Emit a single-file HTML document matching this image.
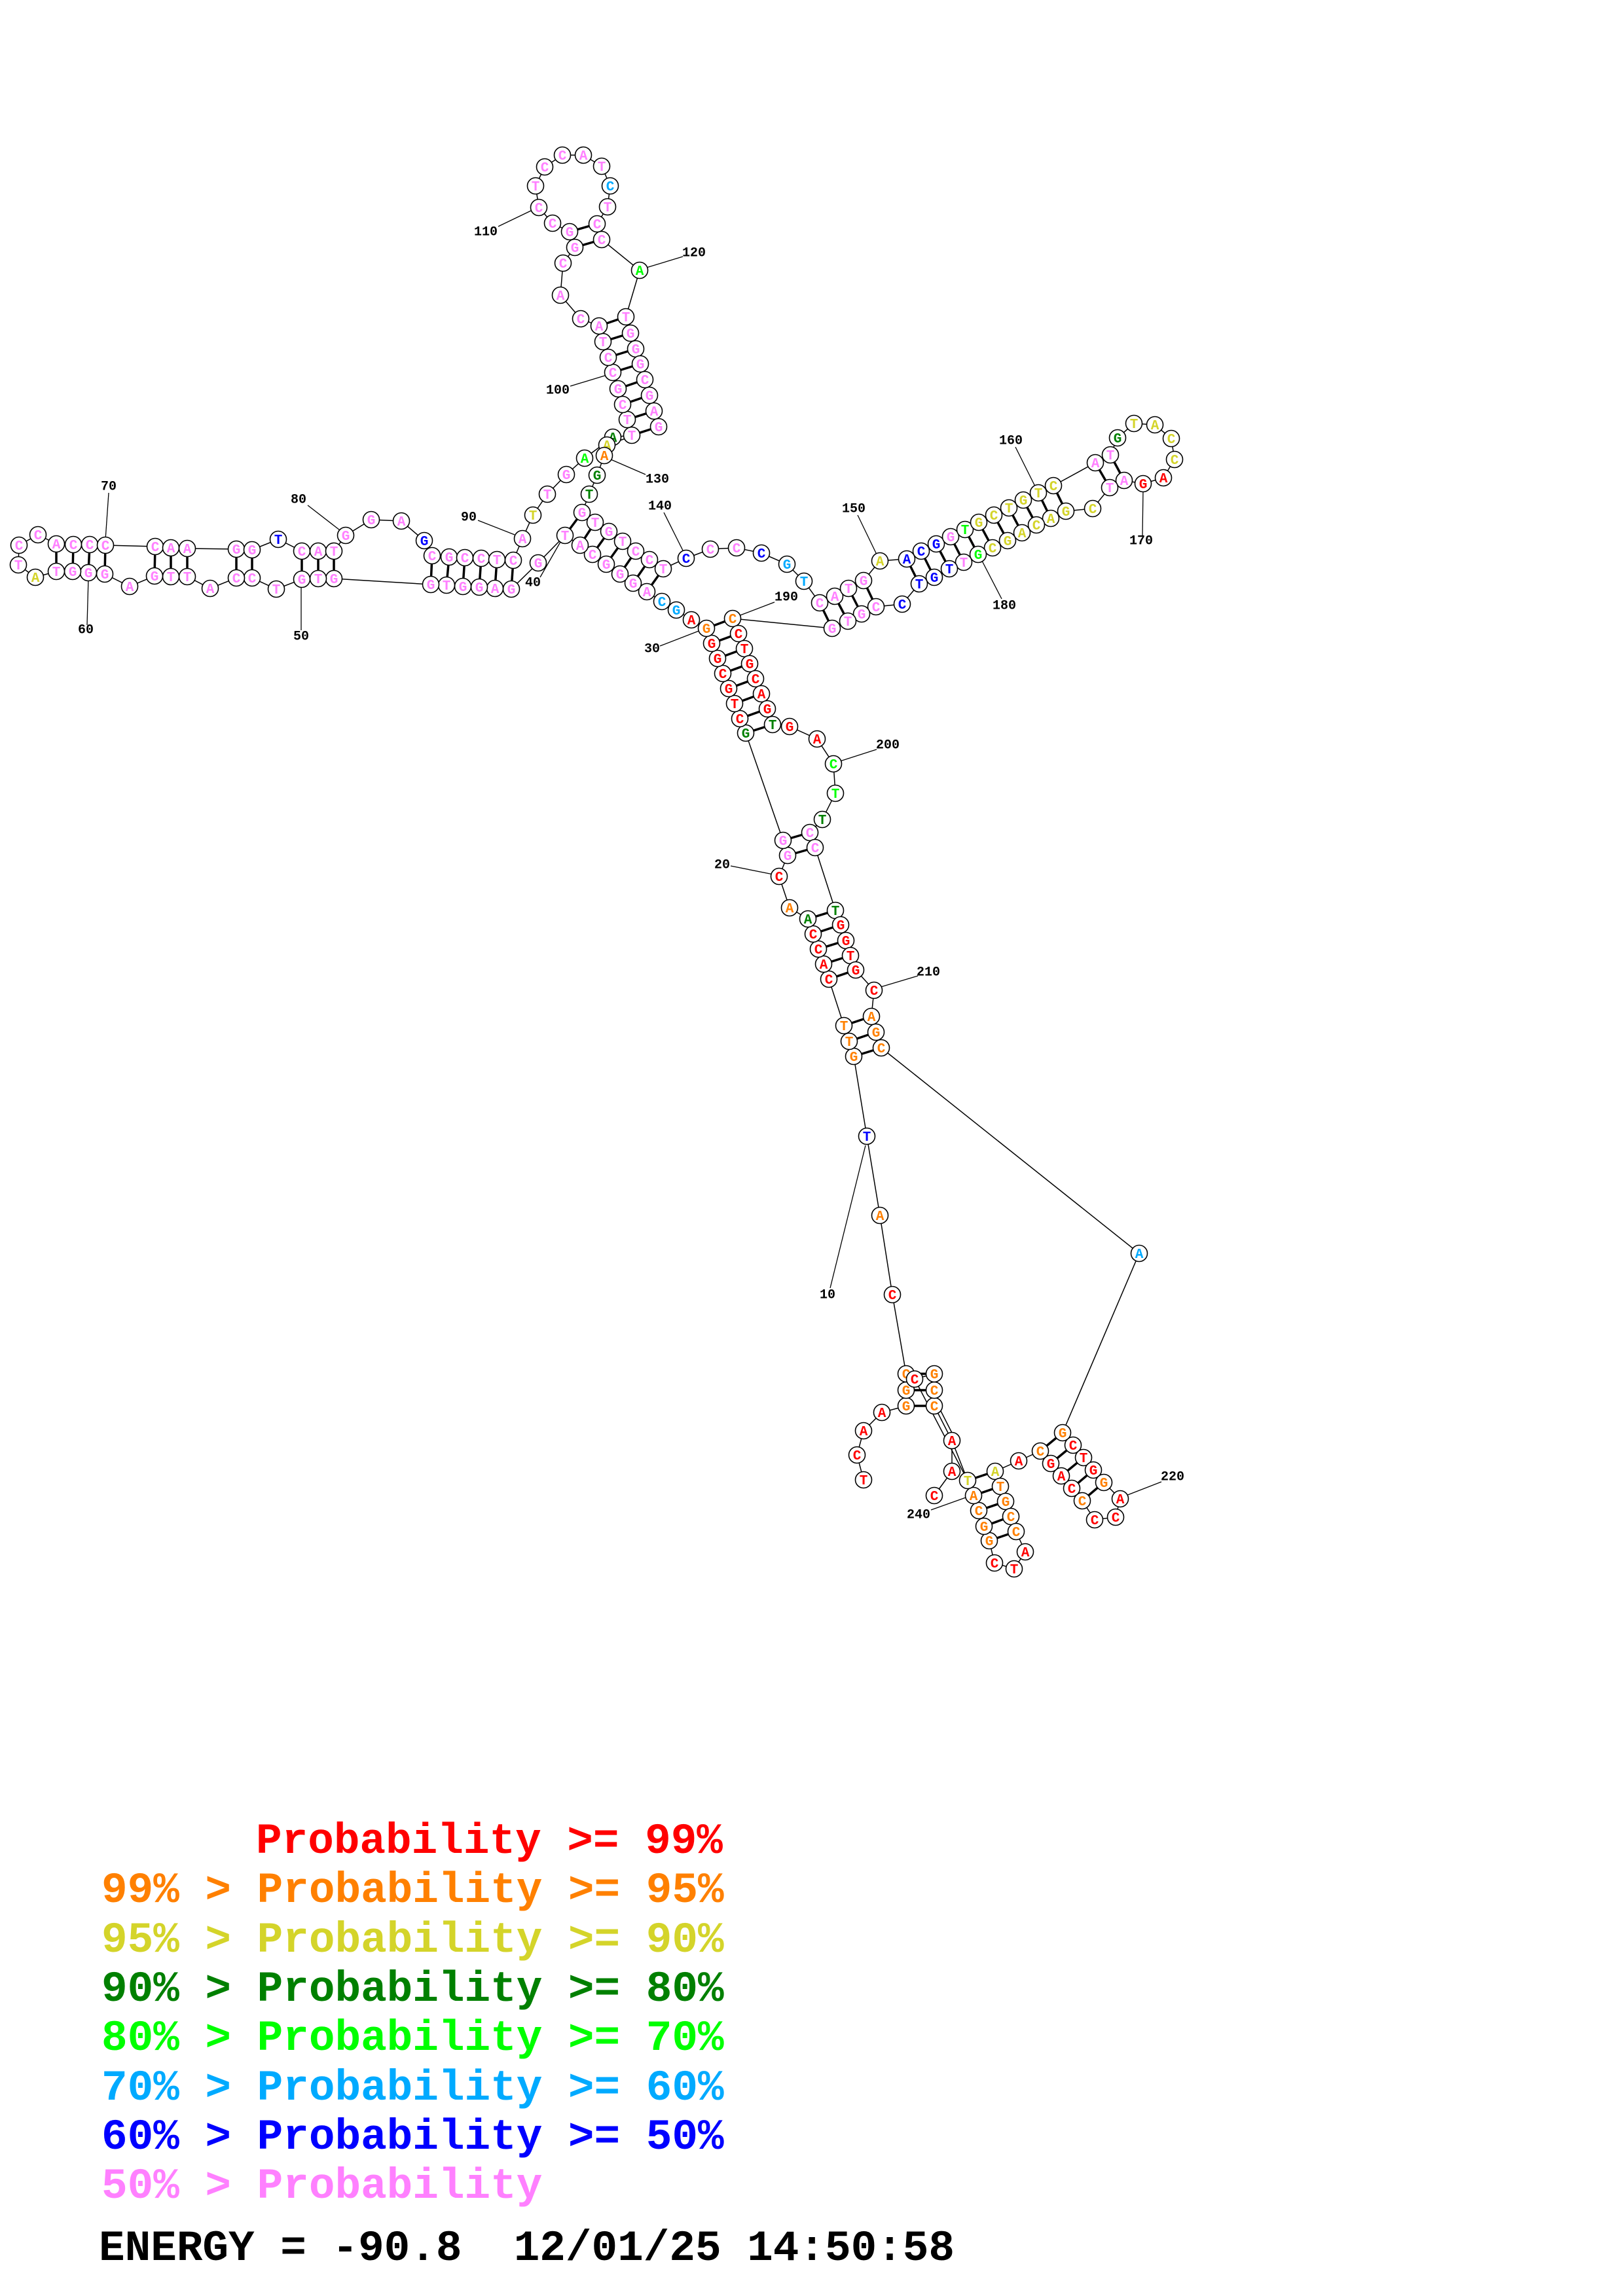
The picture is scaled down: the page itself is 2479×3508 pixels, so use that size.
<!DOCTYPE html>
<html><head><meta charset="utf-8"><style>
html,body{margin:0;padding:0;background:#fff}
svg{display:block}
.n circle{fill:#fff;stroke:#000;stroke-width:1.6}
.n text{font-family:"Liberation Mono",monospace;font-weight:bold;font-size:21px;text-anchor:middle}
.lb{font-family:"Liberation Mono",monospace;font-weight:bold;font-size:20px;text-anchor:middle;dominant-baseline:central;fill:#000}
.lg{font-family:"Liberation Mono",monospace;font-weight:bold;font-size:66px;white-space:pre}
</style></head><body>
<svg width="2479" height="3508" viewBox="0 0 2479 3508" xmlns="http://www.w3.org/2000/svg">
<g fill="none" stroke="#000" stroke-width="1.5">
<polyline points="1319,2261 1309,2223 1319,2186 1347,2158 1384,2148 1384,2124 1384,2099 1363,1978 1344,1857 1324,1736 1304,1614 1297,1591 1289,1567 1266,1496 1258,1473 1250,1450 1242,1427 1234,1404 1206,1387 1190,1339 1203,1307 1196,1284 1139,1120 1130,1098 1122,1075 1113,1052 1104,1029 1096,1006 1087,983 1079,960 1056,947 1033,932 1011,919 988,904 967,891 947,877 926,862 905,847 886,833 863,818 822,860 781,900 756,899 732,897 707,896 682,894 658,893 510,884 486,884 461,885 422,900 385,883 361,883 321,899 286,881 261,881 236,880 198,896 160,877 135,875 111,873 86,873 54,882 28,863 29,833 58,817 86,831 112,832 137,832 161,833 237,835 261,837 286,838 361,839 385,840 425,824 461,842 486,842 510,842 528,818 567,794 613,796 648,826 660,849 686,851 710,852 735,853 759,855 784,856 798,823 814,787 836,755 865,725 893,700 936,668 965,665 958,641 951,618 944,594 936,569 929,546 921,522 915,498 887,487 856,451 860,402 878,378 870,354 844,341 823,317 818,284 832,255 859,237 891,237 919,254 932,284 928,316 912,342 919,366 977,413 956,484 963,509 971,533 978,556 985,580 992,604 999,628 1006,652 927,680 923,696 912,726 900,755 889,783 909,798 930,812 951,827 971,842 992,855 1013,869 1048,853 1085,839 1125,837 1163,845 1202,862 1228,888 1252,921 1275,911 1296,899 1319,887 1344,857 1385,854 1407,842 1430,831 1452,820 1474,809 1495,798 1518,787 1541,776 1563,764 1586,753 1609,742 1673,707 1696,695 1707,669 1732,647 1764,649 1789,670 1794,702 1777,730 1746,739 1717,734 1695,745 1669,777 1628,781 1605,792 1583,802 1561,814 1539,826 1516,837 1494,847 1472,859 1450,869 1427,882 1404,892 1378,923 1338,927 1316,938 1295,949 1271,960 1119,945 1128,968 1137,991 1145,1014 1154,1037 1163,1060 1172,1083 1180,1107 1206,1110 1248,1129 1273,1167 1276,1212 1256,1252 1237,1272 1245,1295 1276,1391 1284,1413 1292,1437 1299,1460 1307,1482 1335,1513 1331,1553 1338,1577 1346,1601 1740,1915 1623,2189 1639,2208 1655,2227 1670,2246 1686,2265 1711,2290 1704,2318 1672,2322 1653,2293 1637,2274 1621,2255 1605,2236 1589,2217 1556,2232 1520,2248 1528,2271 1536,2294 1544,2317 1552,2340 1566,2371 1549,2397 1519,2388 1511,2354 1503,2332 1495,2308 1487,2285 1478,2262 1454,2201 1454,2248 1427,2285"/>
<polyline points="1454,2201 1427,2148 1427,2124 1427,2099 1397,2107 1478,2262"/>
<polyline points="1459,2199 1432,2146"/>
</g>
<g stroke="#000" stroke-width="3.5">
<line x1="870" y1="354" x2="912" y2="342"/><line x1="878" y1="378" x2="919" y2="366"/>
<line x1="915" y1="498" x2="956" y2="484"/><line x1="921" y1="522" x2="963" y2="509"/><line x1="929" y1="546" x2="971" y2="533"/><line x1="936" y1="569" x2="978" y2="556"/><line x1="944" y1="594" x2="985" y2="580"/><line x1="951" y1="618" x2="992" y2="604"/><line x1="958" y1="641" x2="999" y2="628"/><line x1="965" y1="665" x2="1006" y2="652"/>
<line x1="863" y1="818" x2="889" y2="783"/><line x1="886" y1="833" x2="909" y2="798"/><line x1="905" y1="847" x2="930" y2="812"/><line x1="926" y1="862" x2="951" y2="827"/><line x1="947" y1="877" x2="971" y2="842"/><line x1="967" y1="891" x2="992" y2="855"/><line x1="988" y1="904" x2="1013" y2="869"/>
<line x1="86" y1="831" x2="86" y2="873"/><line x1="112" y1="832" x2="111" y2="873"/><line x1="137" y1="832" x2="135" y2="875"/><line x1="161" y1="833" x2="160" y2="877"/>
<line x1="237" y1="835" x2="236" y2="880"/><line x1="261" y1="837" x2="261" y2="881"/><line x1="286" y1="838" x2="286" y2="881"/>
<line x1="361" y1="839" x2="361" y2="883"/><line x1="385" y1="840" x2="385" y2="883"/>
<line x1="461" y1="842" x2="461" y2="885"/><line x1="486" y1="842" x2="486" y2="884"/><line x1="510" y1="842" x2="510" y2="884"/>
<line x1="660" y1="849" x2="658" y2="893"/><line x1="686" y1="851" x2="682" y2="894"/><line x1="710" y1="852" x2="707" y2="896"/><line x1="735" y1="853" x2="732" y2="897"/><line x1="759" y1="855" x2="756" y2="899"/><line x1="784" y1="856" x2="781" y2="900"/>
<line x1="1252" y1="921" x2="1271" y2="960"/><line x1="1275" y1="911" x2="1295" y2="949"/><line x1="1296" y1="899" x2="1316" y2="938"/><line x1="1319" y1="887" x2="1338" y2="927"/>
<line x1="1385" y1="854" x2="1404" y2="892"/><line x1="1407" y1="842" x2="1427" y2="882"/><line x1="1430" y1="831" x2="1450" y2="869"/><line x1="1452" y1="820" x2="1472" y2="859"/><line x1="1474" y1="809" x2="1494" y2="847"/><line x1="1495" y1="798" x2="1516" y2="837"/><line x1="1518" y1="787" x2="1539" y2="826"/><line x1="1541" y1="776" x2="1561" y2="814"/><line x1="1563" y1="764" x2="1583" y2="802"/><line x1="1586" y1="753" x2="1605" y2="792"/><line x1="1609" y1="742" x2="1628" y2="781"/><line x1="1673" y1="707" x2="1695" y2="745"/><line x1="1696" y1="695" x2="1717" y2="734"/>
<line x1="1079" y1="960" x2="1119" y2="945"/><line x1="1087" y1="983" x2="1128" y2="968"/><line x1="1096" y1="1006" x2="1137" y2="991"/><line x1="1104" y1="1029" x2="1145" y2="1014"/><line x1="1113" y1="1052" x2="1154" y2="1037"/><line x1="1122" y1="1075" x2="1163" y2="1060"/><line x1="1130" y1="1098" x2="1172" y2="1083"/><line x1="1139" y1="1120" x2="1180" y2="1107"/>
<line x1="1196" y1="1284" x2="1237" y2="1272"/><line x1="1203" y1="1307" x2="1245" y2="1295"/>
<line x1="1234" y1="1404" x2="1276" y2="1391"/><line x1="1242" y1="1427" x2="1284" y2="1413"/><line x1="1250" y1="1450" x2="1292" y2="1437"/><line x1="1258" y1="1473" x2="1299" y2="1460"/><line x1="1266" y1="1496" x2="1307" y2="1482"/>
<line x1="1289" y1="1567" x2="1331" y2="1553"/><line x1="1297" y1="1591" x2="1338" y2="1577"/><line x1="1304" y1="1614" x2="1346" y2="1601"/>
<line x1="1384" y1="2099" x2="1427" y2="2099"/><line x1="1384" y1="2124" x2="1427" y2="2124"/><line x1="1384" y1="2148" x2="1427" y2="2148"/>
<line x1="1589" y1="2217" x2="1623" y2="2189"/><line x1="1605" y1="2236" x2="1639" y2="2208"/><line x1="1621" y1="2255" x2="1655" y2="2227"/><line x1="1637" y1="2274" x2="1670" y2="2246"/><line x1="1653" y1="2293" x2="1686" y2="2265"/>
<line x1="1478" y1="2262" x2="1520" y2="2248"/><line x1="1487" y1="2285" x2="1528" y2="2271"/><line x1="1495" y1="2308" x2="1536" y2="2294"/><line x1="1503" y1="2332" x2="1544" y2="2317"/><line x1="1511" y1="2354" x2="1552" y2="2340"/>
</g>
<g stroke="#000" stroke-width="1.3">
<line x1="1268" y1="1968" x2="1322" y2="1750"/><line x1="1116" y1="1323" x2="1181" y2="1336"/><line x1="1008" y1="987" x2="1070" y2="963"/><line x1="825" y1="882" x2="856" y2="828"/><line x1="460" y1="963" x2="460" y2="892"/><line x1="133" y1="955" x2="135" y2="883"/><line x1="166" y1="753" x2="161" y2="825"/><line x1="470" y1="772" x2="519" y2="810"/><line x1="730" y1="795" x2="786" y2="817"/><line x1="871" y1="590" x2="927" y2="573"/><line x1="761" y1="346" x2="813" y2="321"/><line x1="1043" y1="392" x2="987" y2="409"/><line x1="986" y1="725" x2="933" y2="702"/><line x1="1014" y1="783" x2="1046" y2="847"/><line x1="1310" y1="787" x2="1339" y2="847"/><line x1="1551" y1="683" x2="1581" y2="743"/><line x1="1745" y1="818" x2="1746" y2="748"/><line x1="1530" y1="915" x2="1500" y2="857"/><line x1="1183" y1="920" x2="1128" y2="941"/><line x1="1339" y1="1145" x2="1283" y2="1163"/><line x1="1402" y1="1491" x2="1345" y2="1508"/><line x1="1774" y1="2264" x2="1720" y2="2285"/><line x1="1422" y1="2307" x2="1478" y2="2287"/>
</g>
<g class="lb">
<text x="1264" y="1979">10</text><text x="1103" y="1322">20</text><text x="996" y="992">30</text><text x="814" y="891">40</text><text x="460" y="973">50</text><text x="131" y="963">60</text><text x="166" y="744">70</text><text x="456" y="764">80</text><text x="716" y="791">90</text><text x="852" y="597">100</text><text x="742" y="355">110</text><text x="1060" y="387">120</text><text x="1004" y="733">130</text><text x="1008" y="774">140</text><text x="1304" y="778">150</text><text x="1544" y="674">160</text><text x="1743" y="827">170</text><text x="1534" y="926">180</text><text x="1201" y="913">190</text><text x="1356" y="1139">200</text><text x="1418" y="1486">210</text><text x="1791" y="2257">220</text><text x="1403" y="2315">240</text>
</g>
<g class="n">
<circle cx="1319" cy="2261" r="12.5"/><text x="1319" y="2268" fill="#f00">T</text>
<circle cx="1309" cy="2223" r="12.5"/><text x="1309" y="2230" fill="#f00">C</text>
<circle cx="1319" cy="2186" r="12.5"/><text x="1319" y="2193" fill="#f00">A</text>
<circle cx="1347" cy="2158" r="12.5"/><text x="1347" y="2165" fill="#f00">A</text>
<circle cx="1384" cy="2148" r="12.5"/><text x="1384" y="2155" fill="#ff8000">G</text>
<circle cx="1384" cy="2124" r="12.5"/><text x="1384" y="2131" fill="#ff8000">G</text>
<circle cx="1384" cy="2099" r="12.5"/><text x="1384" y="2106" fill="#ff8000">C</text>
<circle cx="1427" cy="2148" r="12.5"/><text x="1427" y="2155" fill="#ff8000">C</text>
<circle cx="1427" cy="2124" r="12.5"/><text x="1427" y="2131" fill="#ff8000">C</text>
<circle cx="1427" cy="2099" r="12.5"/><text x="1427" y="2106" fill="#ff8000">G</text>
<circle cx="1397" cy="2107" r="12.5"/><text x="1397" y="2114" fill="#f00">C</text>
<circle cx="1363" cy="1978" r="12.5"/><text x="1363" y="1985" fill="#f00">C</text>
<circle cx="1344" cy="1857" r="12.5"/><text x="1344" y="1864" fill="#ff8000">A</text>
<circle cx="1324" cy="1736" r="12.5"/><text x="1324" y="1743" fill="#00f">T</text>
<circle cx="1304" cy="1614" r="12.5"/><text x="1304" y="1621" fill="#ff8000">G</text>
<circle cx="1297" cy="1591" r="12.5"/><text x="1297" y="1598" fill="#ff8000">T</text>
<circle cx="1289" cy="1567" r="12.5"/><text x="1289" y="1574" fill="#ff8000">T</text>
<circle cx="1266" cy="1496" r="12.5"/><text x="1266" y="1503" fill="#f00">C</text>
<circle cx="1258" cy="1473" r="12.5"/><text x="1258" y="1480" fill="#f00">A</text>
<circle cx="1250" cy="1450" r="12.5"/><text x="1250" y="1457" fill="#f00">C</text>
<circle cx="1242" cy="1427" r="12.5"/><text x="1242" y="1434" fill="#f00">C</text>
<circle cx="1234" cy="1404" r="12.5"/><text x="1234" y="1411" fill="#008000">A</text>
<circle cx="1206" cy="1387" r="12.5"/><text x="1206" y="1394" fill="#ff8000">A</text>
<circle cx="1190" cy="1339" r="12.5"/><text x="1190" y="1346" fill="#f00">C</text>
<circle cx="1203" cy="1307" r="12.5"/><text x="1203" y="1314" fill="#ff80ff">G</text>
<circle cx="1196" cy="1284" r="12.5"/><text x="1196" y="1291" fill="#ff80ff">G</text>
<circle cx="1139" cy="1120" r="12.5"/><text x="1139" y="1127" fill="#008000">G</text>
<circle cx="1130" cy="1098" r="12.5"/><text x="1130" y="1105" fill="#f00">C</text>
<circle cx="1122" cy="1075" r="12.5"/><text x="1122" y="1082" fill="#f00">T</text>
<circle cx="1113" cy="1052" r="12.5"/><text x="1113" y="1059" fill="#f00">G</text>
<circle cx="1104" cy="1029" r="12.5"/><text x="1104" y="1036" fill="#f00">C</text>
<circle cx="1096" cy="1006" r="12.5"/><text x="1096" y="1013" fill="#f00">G</text>
<circle cx="1087" cy="983" r="12.5"/><text x="1087" y="990" fill="#f00">G</text>
<circle cx="1079" cy="960" r="12.5"/><text x="1079" y="967" fill="#ff8000">G</text>
<circle cx="1056" cy="947" r="12.5"/><text x="1056" y="954" fill="#f00">A</text>
<circle cx="1033" cy="932" r="12.5"/><text x="1033" y="939" fill="#00aaff">G</text>
<circle cx="1011" cy="919" r="12.5"/><text x="1011" y="926" fill="#00aaff">C</text>
<circle cx="988" cy="904" r="12.5"/><text x="988" y="911" fill="#ff80ff">A</text>
<circle cx="967" cy="891" r="12.5"/><text x="967" y="898" fill="#ff80ff">G</text>
<circle cx="947" cy="877" r="12.5"/><text x="947" y="884" fill="#ff80ff">G</text>
<circle cx="926" cy="862" r="12.5"/><text x="926" y="869" fill="#ff80ff">G</text>
<circle cx="905" cy="847" r="12.5"/><text x="905" y="854" fill="#ff80ff">C</text>
<circle cx="886" cy="833" r="12.5"/><text x="886" y="840" fill="#ff80ff">A</text>
<circle cx="863" cy="818" r="12.5"/><text x="863" y="825" fill="#ff80ff">T</text>
<circle cx="822" cy="860" r="12.5"/><text x="822" y="867" fill="#ff80ff">G</text>
<circle cx="781" cy="900" r="12.5"/><text x="781" y="907" fill="#ff80ff">G</text>
<circle cx="756" cy="899" r="12.5"/><text x="756" y="906" fill="#ff80ff">A</text>
<circle cx="732" cy="897" r="12.5"/><text x="732" y="904" fill="#ff80ff">G</text>
<circle cx="707" cy="896" r="12.5"/><text x="707" y="903" fill="#ff80ff">G</text>
<circle cx="682" cy="894" r="12.5"/><text x="682" y="901" fill="#ff80ff">T</text>
<circle cx="658" cy="893" r="12.5"/><text x="658" y="900" fill="#ff80ff">G</text>
<circle cx="510" cy="884" r="12.5"/><text x="510" y="891" fill="#ff80ff">G</text>
<circle cx="486" cy="884" r="12.5"/><text x="486" y="891" fill="#ff80ff">T</text>
<circle cx="461" cy="885" r="12.5"/><text x="461" y="892" fill="#ff80ff">G</text>
<circle cx="422" cy="900" r="12.5"/><text x="422" y="907" fill="#ff80ff">T</text>
<circle cx="385" cy="883" r="12.5"/><text x="385" y="890" fill="#ff80ff">C</text>
<circle cx="361" cy="883" r="12.5"/><text x="361" y="890" fill="#ff80ff">C</text>
<circle cx="321" cy="899" r="12.5"/><text x="321" y="906" fill="#ff80ff">A</text>
<circle cx="286" cy="881" r="12.5"/><text x="286" y="888" fill="#ff80ff">T</text>
<circle cx="261" cy="881" r="12.5"/><text x="261" y="888" fill="#ff80ff">T</text>
<circle cx="236" cy="880" r="12.5"/><text x="236" y="887" fill="#ff80ff">G</text>
<circle cx="198" cy="896" r="12.5"/><text x="198" y="903" fill="#ff80ff">A</text>
<circle cx="160" cy="877" r="12.5"/><text x="160" y="884" fill="#ff80ff">G</text>
<circle cx="135" cy="875" r="12.5"/><text x="135" y="882" fill="#ff80ff">G</text>
<circle cx="111" cy="873" r="12.5"/><text x="111" y="880" fill="#ff80ff">G</text>
<circle cx="86" cy="873" r="12.5"/><text x="86" y="880" fill="#ff80ff">T</text>
<circle cx="54" cy="882" r="12.5"/><text x="54" y="889" fill="#d4d42a">A</text>
<circle cx="28" cy="863" r="12.5"/><text x="28" y="870" fill="#ff80ff">T</text>
<circle cx="29" cy="833" r="12.5"/><text x="29" y="840" fill="#ff80ff">C</text>
<circle cx="58" cy="817" r="12.5"/><text x="58" y="824" fill="#ff80ff">C</text>
<circle cx="86" cy="831" r="12.5"/><text x="86" y="838" fill="#ff80ff">A</text>
<circle cx="112" cy="832" r="12.5"/><text x="112" y="839" fill="#ff80ff">C</text>
<circle cx="137" cy="832" r="12.5"/><text x="137" y="839" fill="#ff80ff">C</text>
<circle cx="161" cy="833" r="12.5"/><text x="161" y="840" fill="#ff80ff">C</text>
<circle cx="237" cy="835" r="12.5"/><text x="237" y="842" fill="#ff80ff">C</text>
<circle cx="261" cy="837" r="12.5"/><text x="261" y="844" fill="#ff80ff">A</text>
<circle cx="286" cy="838" r="12.5"/><text x="286" y="845" fill="#ff80ff">A</text>
<circle cx="361" cy="839" r="12.5"/><text x="361" y="846" fill="#ff80ff">G</text>
<circle cx="385" cy="840" r="12.5"/><text x="385" y="847" fill="#ff80ff">G</text>
<circle cx="425" cy="824" r="12.5"/><text x="425" y="831" fill="#00f">T</text>
<circle cx="461" cy="842" r="12.5"/><text x="461" y="849" fill="#ff80ff">C</text>
<circle cx="486" cy="842" r="12.5"/><text x="486" y="849" fill="#ff80ff">A</text>
<circle cx="510" cy="842" r="12.5"/><text x="510" y="849" fill="#ff80ff">T</text>
<circle cx="528" cy="818" r="12.5"/><text x="528" y="825" fill="#ff80ff">G</text>
<circle cx="567" cy="794" r="12.5"/><text x="567" y="801" fill="#ff80ff">G</text>
<circle cx="613" cy="796" r="12.5"/><text x="613" y="803" fill="#ff80ff">A</text>
<circle cx="648" cy="826" r="12.5"/><text x="648" y="833" fill="#00f">G</text>
<circle cx="660" cy="849" r="12.5"/><text x="660" y="856" fill="#ff80ff">C</text>
<circle cx="686" cy="851" r="12.5"/><text x="686" y="858" fill="#ff80ff">G</text>
<circle cx="710" cy="852" r="12.5"/><text x="710" y="859" fill="#ff80ff">C</text>
<circle cx="735" cy="853" r="12.5"/><text x="735" y="860" fill="#ff80ff">C</text>
<circle cx="759" cy="855" r="12.5"/><text x="759" y="862" fill="#ff80ff">T</text>
<circle cx="784" cy="856" r="12.5"/><text x="784" y="863" fill="#ff80ff">C</text>
<circle cx="798" cy="823" r="12.5"/><text x="798" y="830" fill="#ff80ff">A</text>
<circle cx="814" cy="787" r="12.5"/><text x="814" y="794" fill="#d4d42a">T</text>
<circle cx="836" cy="755" r="12.5"/><text x="836" y="762" fill="#ff80ff">T</text>
<circle cx="865" cy="725" r="12.5"/><text x="865" y="732" fill="#ff80ff">G</text>
<circle cx="893" cy="700" r="12.5"/><text x="893" y="707" fill="#0f0">A</text>
<circle cx="936" cy="668" r="12.5"/><text x="936" y="675" fill="#008000">A</text>
<circle cx="965" cy="665" r="12.5"/><text x="965" y="672" fill="#ff80ff">T</text>
<circle cx="958" cy="641" r="12.5"/><text x="958" y="648" fill="#ff80ff">T</text>
<circle cx="951" cy="618" r="12.5"/><text x="951" y="625" fill="#ff80ff">C</text>
<circle cx="944" cy="594" r="12.5"/><text x="944" y="601" fill="#ff80ff">G</text>
<circle cx="936" cy="569" r="12.5"/><text x="936" y="576" fill="#ff80ff">C</text>
<circle cx="929" cy="546" r="12.5"/><text x="929" y="553" fill="#ff80ff">C</text>
<circle cx="921" cy="522" r="12.5"/><text x="921" y="529" fill="#ff80ff">T</text>
<circle cx="915" cy="498" r="12.5"/><text x="915" y="505" fill="#ff80ff">A</text>
<circle cx="887" cy="487" r="12.5"/><text x="887" y="494" fill="#ff80ff">C</text>
<circle cx="856" cy="451" r="12.5"/><text x="856" y="458" fill="#ff80ff">A</text>
<circle cx="860" cy="402" r="12.5"/><text x="860" y="409" fill="#ff80ff">C</text>
<circle cx="878" cy="378" r="12.5"/><text x="878" y="385" fill="#ff80ff">G</text>
<circle cx="870" cy="354" r="12.5"/><text x="870" y="361" fill="#ff80ff">G</text>
<circle cx="844" cy="341" r="12.5"/><text x="844" y="348" fill="#ff80ff">C</text>
<circle cx="823" cy="317" r="12.5"/><text x="823" y="324" fill="#ff80ff">C</text>
<circle cx="818" cy="284" r="12.5"/><text x="818" y="291" fill="#ff80ff">T</text>
<circle cx="832" cy="255" r="12.5"/><text x="832" y="262" fill="#ff80ff">C</text>
<circle cx="859" cy="237" r="12.5"/><text x="859" y="244" fill="#ff80ff">C</text>
<circle cx="891" cy="237" r="12.5"/><text x="891" y="244" fill="#ff80ff">A</text>
<circle cx="919" cy="254" r="12.5"/><text x="919" y="261" fill="#ff80ff">T</text>
<circle cx="932" cy="284" r="12.5"/><text x="932" y="291" fill="#00aaff">C</text>
<circle cx="928" cy="316" r="12.5"/><text x="928" y="323" fill="#ff80ff">T</text>
<circle cx="912" cy="342" r="12.5"/><text x="912" y="349" fill="#ff80ff">C</text>
<circle cx="919" cy="366" r="12.5"/><text x="919" y="373" fill="#ff80ff">C</text>
<circle cx="977" cy="413" r="12.5"/><text x="977" y="420" fill="#0f0">A</text>
<circle cx="956" cy="484" r="12.5"/><text x="956" y="491" fill="#ff80ff">T</text>
<circle cx="963" cy="509" r="12.5"/><text x="963" y="516" fill="#ff80ff">G</text>
<circle cx="971" cy="533" r="12.5"/><text x="971" y="540" fill="#ff80ff">G</text>
<circle cx="978" cy="556" r="12.5"/><text x="978" y="563" fill="#ff80ff">G</text>
<circle cx="985" cy="580" r="12.5"/><text x="985" y="587" fill="#ff80ff">C</text>
<circle cx="992" cy="604" r="12.5"/><text x="992" y="611" fill="#ff80ff">G</text>
<circle cx="999" cy="628" r="12.5"/><text x="999" y="635" fill="#ff80ff">A</text>
<circle cx="1006" cy="652" r="12.5"/><text x="1006" y="659" fill="#ff80ff">G</text>
<circle cx="927" cy="680" r="12.5"/><text x="927" y="687" fill="#d4d42a">A</text>
<circle cx="923" cy="696" r="12.5"/><text x="923" y="703" fill="#ff8000">A</text>
<circle cx="912" cy="726" r="12.5"/><text x="912" y="733" fill="#008000">G</text>
<circle cx="900" cy="755" r="12.5"/><text x="900" y="762" fill="#008000">T</text>
<circle cx="889" cy="783" r="12.5"/><text x="889" y="790" fill="#ff80ff">G</text>
<circle cx="909" cy="798" r="12.5"/><text x="909" y="805" fill="#ff80ff">T</text>
<circle cx="930" cy="812" r="12.5"/><text x="930" y="819" fill="#ff80ff">G</text>
<circle cx="951" cy="827" r="12.5"/><text x="951" y="834" fill="#ff80ff">T</text>
<circle cx="971" cy="842" r="12.5"/><text x="971" y="849" fill="#ff80ff">C</text>
<circle cx="992" cy="855" r="12.5"/><text x="992" y="862" fill="#ff80ff">C</text>
<circle cx="1013" cy="869" r="12.5"/><text x="1013" y="876" fill="#ff80ff">T</text>
<circle cx="1048" cy="853" r="12.5"/><text x="1048" y="860" fill="#00f">C</text>
<circle cx="1085" cy="839" r="12.5"/><text x="1085" y="846" fill="#ff80ff">C</text>
<circle cx="1125" cy="837" r="12.5"/><text x="1125" y="844" fill="#ff80ff">C</text>
<circle cx="1163" cy="845" r="12.5"/><text x="1163" y="852" fill="#00f">C</text>
<circle cx="1202" cy="862" r="12.5"/><text x="1202" y="869" fill="#00aaff">G</text>
<circle cx="1228" cy="888" r="12.5"/><text x="1228" y="895" fill="#00aaff">T</text>
<circle cx="1252" cy="921" r="12.5"/><text x="1252" y="928" fill="#ff80ff">C</text>
<circle cx="1275" cy="911" r="12.5"/><text x="1275" y="918" fill="#ff80ff">A</text>
<circle cx="1296" cy="899" r="12.5"/><text x="1296" y="906" fill="#ff80ff">T</text>
<circle cx="1319" cy="887" r="12.5"/><text x="1319" y="894" fill="#ff80ff">G</text>
<circle cx="1344" cy="857" r="12.5"/><text x="1344" y="864" fill="#d4d42a">A</text>
<circle cx="1385" cy="854" r="12.5"/><text x="1385" y="861" fill="#00f">A</text>
<circle cx="1407" cy="842" r="12.5"/><text x="1407" y="849" fill="#00f">C</text>
<circle cx="1430" cy="831" r="12.5"/><text x="1430" y="838" fill="#00f">G</text>
<circle cx="1452" cy="820" r="12.5"/><text x="1452" y="827" fill="#ff80ff">G</text>
<circle cx="1474" cy="809" r="12.5"/><text x="1474" y="816" fill="#0f0">T</text>
<circle cx="1495" cy="798" r="12.5"/><text x="1495" y="805" fill="#d4d42a">G</text>
<circle cx="1518" cy="787" r="12.5"/><text x="1518" y="794" fill="#d4d42a">C</text>
<circle cx="1541" cy="776" r="12.5"/><text x="1541" y="783" fill="#d4d42a">T</text>
<circle cx="1563" cy="764" r="12.5"/><text x="1563" y="771" fill="#d4d42a">G</text>
<circle cx="1586" cy="753" r="12.5"/><text x="1586" y="760" fill="#d4d42a">T</text>
<circle cx="1609" cy="742" r="12.5"/><text x="1609" y="749" fill="#d4d42a">C</text>
<circle cx="1673" cy="707" r="12.5"/><text x="1673" y="714" fill="#ff80ff">A</text>
<circle cx="1696" cy="695" r="12.5"/><text x="1696" y="702" fill="#ff80ff">T</text>
<circle cx="1707" cy="669" r="12.5"/><text x="1707" y="676" fill="#008000">G</text>
<circle cx="1732" cy="647" r="12.5"/><text x="1732" y="654" fill="#d4d42a">T</text>
<circle cx="1764" cy="649" r="12.5"/><text x="1764" y="656" fill="#d4d42a">A</text>
<circle cx="1789" cy="670" r="12.5"/><text x="1789" y="677" fill="#d4d42a">C</text>
<circle cx="1794" cy="702" r="12.5"/><text x="1794" y="709" fill="#d4d42a">C</text>
<circle cx="1777" cy="730" r="12.5"/><text x="1777" y="737" fill="#f00">A</text>
<circle cx="1746" cy="739" r="12.5"/><text x="1746" y="746" fill="#f00">G</text>
<circle cx="1717" cy="734" r="12.5"/><text x="1717" y="741" fill="#ff80ff">A</text>
<circle cx="1695" cy="745" r="12.5"/><text x="1695" y="752" fill="#ff80ff">T</text>
<circle cx="1669" cy="777" r="12.5"/><text x="1669" y="784" fill="#d4d42a">C</text>
<circle cx="1628" cy="781" r="12.5"/><text x="1628" y="788" fill="#d4d42a">G</text>
<circle cx="1605" cy="792" r="12.5"/><text x="1605" y="799" fill="#d4d42a">A</text>
<circle cx="1583" cy="802" r="12.5"/><text x="1583" y="809" fill="#d4d42a">C</text>
<circle cx="1561" cy="814" r="12.5"/><text x="1561" y="821" fill="#d4d42a">A</text>
<circle cx="1539" cy="826" r="12.5"/><text x="1539" y="833" fill="#d4d42a">G</text>
<circle cx="1516" cy="837" r="12.5"/><text x="1516" y="844" fill="#d4d42a">C</text>
<circle cx="1494" cy="847" r="12.5"/><text x="1494" y="854" fill="#0f0">G</text>
<circle cx="1472" cy="859" r="12.5"/><text x="1472" y="866" fill="#ff80ff">T</text>
<circle cx="1450" cy="869" r="12.5"/><text x="1450" y="876" fill="#00f">T</text>
<circle cx="1427" cy="882" r="12.5"/><text x="1427" y="889" fill="#00f">G</text>
<circle cx="1404" cy="892" r="12.5"/><text x="1404" y="899" fill="#00f">T</text>
<circle cx="1378" cy="923" r="12.5"/><text x="1378" y="930" fill="#00f">C</text>
<circle cx="1338" cy="927" r="12.5"/><text x="1338" y="934" fill="#ff80ff">C</text>
<circle cx="1316" cy="938" r="12.5"/><text x="1316" y="945" fill="#ff80ff">G</text>
<circle cx="1295" cy="949" r="12.5"/><text x="1295" y="956" fill="#ff80ff">T</text>
<circle cx="1271" cy="960" r="12.5"/><text x="1271" y="967" fill="#ff80ff">G</text>
<circle cx="1119" cy="945" r="12.5"/><text x="1119" y="952" fill="#ff8000">C</text>
<circle cx="1128" cy="968" r="12.5"/><text x="1128" y="975" fill="#f00">C</text>
<circle cx="1137" cy="991" r="12.5"/><text x="1137" y="998" fill="#f00">T</text>
<circle cx="1145" cy="1014" r="12.5"/><text x="1145" y="1021" fill="#f00">G</text>
<circle cx="1154" cy="1037" r="12.5"/><text x="1154" y="1044" fill="#f00">C</text>
<circle cx="1163" cy="1060" r="12.5"/><text x="1163" y="1067" fill="#f00">A</text>
<circle cx="1172" cy="1083" r="12.5"/><text x="1172" y="1090" fill="#f00">G</text>
<circle cx="1180" cy="1107" r="12.5"/><text x="1180" y="1114" fill="#008000">T</text>
<circle cx="1206" cy="1110" r="12.5"/><text x="1206" y="1117" fill="#f00">G</text>
<circle cx="1248" cy="1129" r="12.5"/><text x="1248" y="1136" fill="#f00">A</text>
<circle cx="1273" cy="1167" r="12.5"/><text x="1273" y="1174" fill="#0f0">C</text>
<circle cx="1276" cy="1212" r="12.5"/><text x="1276" y="1219" fill="#0f0">T</text>
<circle cx="1256" cy="1252" r="12.5"/><text x="1256" y="1259" fill="#008000">T</text>
<circle cx="1237" cy="1272" r="12.5"/><text x="1237" y="1279" fill="#ff80ff">C</text>
<circle cx="1245" cy="1295" r="12.5"/><text x="1245" y="1302" fill="#ff80ff">C</text>
<circle cx="1276" cy="1391" r="12.5"/><text x="1276" y="1398" fill="#008000">T</text>
<circle cx="1284" cy="1413" r="12.5"/><text x="1284" y="1420" fill="#f00">G</text>
<circle cx="1292" cy="1437" r="12.5"/><text x="1292" y="1444" fill="#f00">G</text>
<circle cx="1299" cy="1460" r="12.5"/><text x="1299" y="1467" fill="#f00">T</text>
<circle cx="1307" cy="1482" r="12.5"/><text x="1307" y="1489" fill="#f00">G</text>
<circle cx="1335" cy="1513" r="12.5"/><text x="1335" y="1520" fill="#f00">C</text>
<circle cx="1331" cy="1553" r="12.5"/><text x="1331" y="1560" fill="#ff8000">A</text>
<circle cx="1338" cy="1577" r="12.5"/><text x="1338" y="1584" fill="#ff8000">G</text>
<circle cx="1346" cy="1601" r="12.5"/><text x="1346" y="1608" fill="#ff8000">C</text>
<circle cx="1740" cy="1915" r="12.5"/><text x="1740" y="1922" fill="#00aaff">A</text>
<circle cx="1623" cy="2189" r="12.5"/><text x="1623" y="2196" fill="#ff8000">G</text>
<circle cx="1639" cy="2208" r="12.5"/><text x="1639" y="2215" fill="#f00">C</text>
<circle cx="1655" cy="2227" r="12.5"/><text x="1655" y="2234" fill="#f00">T</text>
<circle cx="1670" cy="2246" r="12.5"/><text x="1670" y="2253" fill="#f00">G</text>
<circle cx="1686" cy="2265" r="12.5"/><text x="1686" y="2272" fill="#ff8000">G</text>
<circle cx="1711" cy="2290" r="12.5"/><text x="1711" y="2297" fill="#f00">A</text>
<circle cx="1704" cy="2318" r="12.5"/><text x="1704" y="2325" fill="#f00">C</text>
<circle cx="1672" cy="2322" r="12.5"/><text x="1672" y="2329" fill="#f00">C</text>
<circle cx="1653" cy="2293" r="12.5"/><text x="1653" y="2300" fill="#ff8000">C</text>
<circle cx="1637" cy="2274" r="12.5"/><text x="1637" y="2281" fill="#f00">C</text>
<circle cx="1621" cy="2255" r="12.5"/><text x="1621" y="2262" fill="#f00">A</text>
<circle cx="1605" cy="2236" r="12.5"/><text x="1605" y="2243" fill="#f00">G</text>
<circle cx="1589" cy="2217" r="12.5"/><text x="1589" y="2224" fill="#ff8000">C</text>
<circle cx="1556" cy="2232" r="12.5"/><text x="1556" y="2239" fill="#f00">A</text>
<circle cx="1520" cy="2248" r="12.5"/><text x="1520" y="2255" fill="#d4d42a">A</text>
<circle cx="1528" cy="2271" r="12.5"/><text x="1528" y="2278" fill="#ff8000">T</text>
<circle cx="1536" cy="2294" r="12.5"/><text x="1536" y="2301" fill="#ff8000">G</text>
<circle cx="1544" cy="2317" r="12.5"/><text x="1544" y="2324" fill="#ff8000">C</text>
<circle cx="1552" cy="2340" r="12.5"/><text x="1552" y="2347" fill="#ff8000">C</text>
<circle cx="1566" cy="2371" r="12.5"/><text x="1566" y="2378" fill="#f00">A</text>
<circle cx="1549" cy="2397" r="12.5"/><text x="1549" y="2404" fill="#f00">T</text>
<circle cx="1519" cy="2388" r="12.5"/><text x="1519" y="2395" fill="#f00">C</text>
<circle cx="1511" cy="2354" r="12.5"/><text x="1511" y="2361" fill="#ff8000">G</text>
<circle cx="1503" cy="2332" r="12.5"/><text x="1503" y="2339" fill="#ff8000">G</text>
<circle cx="1495" cy="2308" r="12.5"/><text x="1495" y="2315" fill="#ff8000">C</text>
<circle cx="1487" cy="2285" r="12.5"/><text x="1487" y="2292" fill="#ff8000">A</text>
<circle cx="1478" cy="2262" r="12.5"/><text x="1478" y="2269" fill="#d4d42a">T</text>
<circle cx="1454" cy="2201" r="12.5"/><text x="1454" y="2208" fill="#f00">A</text>
<circle cx="1454" cy="2248" r="12.5"/><text x="1454" y="2255" fill="#f00">A</text>
<circle cx="1427" cy="2285" r="12.5"/><text x="1427" y="2292" fill="#f00">C</text>
</g>
<g class="lg">
<text x="391" y="2831" fill="#ff0000">Probability &gt;= 99%</text>
<text x="155" y="2906" fill="#ff8000">99% &gt; Probability &gt;= 95%</text>
<text x="155" y="2982" fill="#d4d42a">95% &gt; Probability &gt;= 90%</text>
<text x="155" y="3057" fill="#008000">90% &gt; Probability &gt;= 80%</text>
<text x="155" y="3132" fill="#00ff00">80% &gt; Probability &gt;= 70%</text>
<text x="155" y="3208" fill="#00aaff">70% &gt; Probability &gt;= 60%</text>
<text x="155" y="3283" fill="#0000ff">60% &gt; Probability &gt;= 50%</text>
<text x="155" y="3358" fill="#ff80ff">50% &gt; Probability</text>
<text x="151" y="3453" fill="#000">ENERGY = -90.8&#160; 12/01/25 14:50:58</text>
</g>
</svg>
</body></html>
